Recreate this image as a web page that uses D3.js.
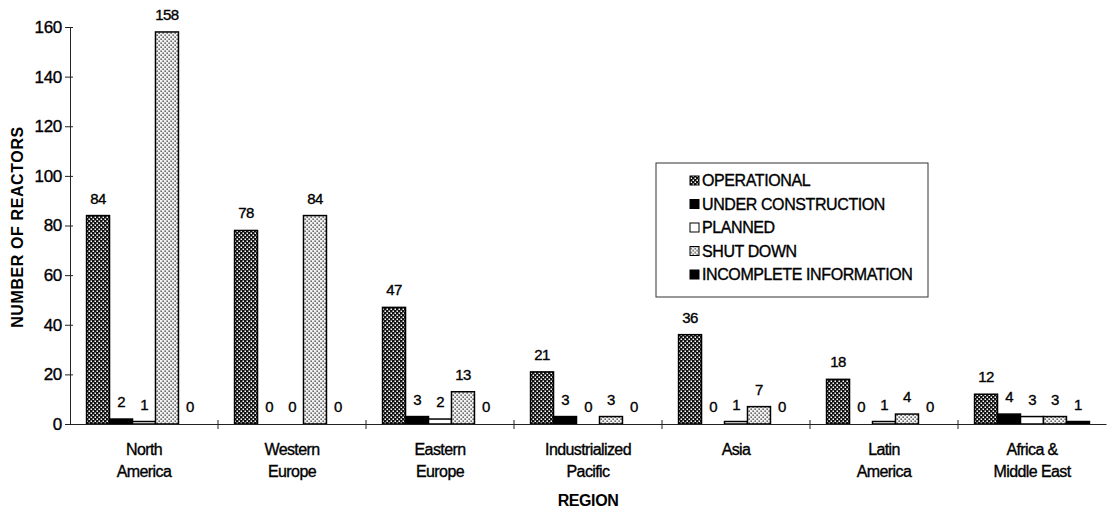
<!DOCTYPE html>
<html>
<head>
<meta charset="utf-8">
<script src="https://cdn.jsdelivr.net/npm/d3@7"></script>
<style>
    body { margin: 0; background: #fff; }
    svg { display: block; font-family: "Liberation Sans", Arial, sans-serif; }
    .ink { stroke: #000; stroke-width: 0.35px; }
</style>
</head>
<body>
<script>
//Chart values.
const regions = ["North America", "Western Europe", "Eastern Europe", "Industrialized Pacific", "Asia", "Latin America", "Africa & Middle East"];
const regionLines = [["North", "America"], ["Western", "Europe"], ["Eastern", "Europe"], ["Industrialized", "Pacific"], ["Asia"], ["Latin", "America"], ["Africa &", "Middle East"]];
const seriesNames = ["OPERATIONAL", "UNDER CONSTRUCTION", "PLANNED", "SHUT DOWN", "INCOMPLETE INFORMATION"];
const operational = [84, 78, 47, 21, 36, 18, 12];
const underConstruction = [2, 0, 3, 3, 0, 0, 4];
const planned = [1, 0, 2, 0, 1, 1, 3];
const shutDown = [158, 84, 13, 3, 7, 4, 3];
const incomplete = [0, 0, 0, 0, 0, 0, 1];
const yTicks = [0, 20, 40, 60, 80, 100, 120, 140, 160];

const seriesValues = [operational, underConstruction, planned, shutDown, incomplete];
const fills = ["url(#opPattern)", "#000", "#fff", "url(#sdPattern)", "#000"];

const width = 1108;
const height = 509;

const svg = d3.select("body").append("svg").attr("width", width).attr("height", height);

//Fill patterns for the two stippled series.
const defs = svg.append("defs");
const op = defs.append("pattern").attr("id", "opPattern").attr("patternUnits", "userSpaceOnUse")
    .attr("width", 4).attr("height", 4);
op.append("rect").attr("width", 4).attr("height", 4).attr("fill", "#111");
op.append("rect").attr("x", 0.5).attr("y", 0.5).attr("width", 1.5).attr("height", 1.5).attr("fill", "#fff");
op.append("rect").attr("x", 2.5).attr("y", 2.5).attr("width", 1.5).attr("height", 1.5).attr("fill", "#fff");

const sd = defs.append("pattern").attr("id", "sdPattern").attr("patternUnits", "userSpaceOnUse")
    .attr("width", 4).attr("height", 4);
sd.append("rect").attr("width", 4).attr("height", 4).attr("fill", "#f2f2f2");
sd.append("rect").attr("x", 0.5).attr("y", 0.5).attr("width", 1.3).attr("height", 1.3).attr("fill", "#222");
sd.append("rect").attr("x", 2.5).attr("y", 2.5).attr("width", 1.3).attr("height", 1.3).attr("fill", "#222");

//Scales.
const x0 = d3.scaleBand().domain(regions).range([70, 1106]).padding(0);
const x1 = d3.scaleBand().domain(seriesNames).range([0, x0.bandwidth()]).paddingInner(0).paddingOuter(0.72);
const y = d3.scaleLinear().domain([0, 160]).range([424, 27]);

//Y-Axis.
const yAxis = svg.append("g")
    .attr("transform", "translate(70,0)")
    .call(d3.axisLeft(y).tickValues(yTicks).tickSize(5).tickSizeOuter(0).tickPadding(3));
yAxis.select(".domain").attr("stroke", "#222").attr("stroke-width", 1);
yAxis.selectAll(".tick line").attr("x2", -5).attr("x1", 3).attr("stroke", "#222");
yAxis.selectAll(".tick text").attr("class", "ink").attr("font-size", 17).attr("letter-spacing", -0.3)
    .attr("fill", "#000").attr("font-family", "Liberation Sans, Arial, sans-serif");

//Bars.
const groups = svg.selectAll("g.region")
    .data(regions)
    .enter()
    .append("g")
    .attr("class", "region")
    .attr("transform", (d) => "translate(" + x0(d) + ",0)");

groups.selectAll("rect")
    .data((d, i) => seriesNames.map((s, j) => ({ series: s, j: j, value: seriesValues[j][i] })))
    .enter()
    .append("rect")
    .attr("x", (d) => x1(d.series))
    .attr("y", (d) => y(d.value))
    .attr("width", x1.bandwidth())
    .attr("height", (d) => y(0) - y(d.value))
    .attr("fill", (d) => fills[d.j])
    .attr("stroke", "#000")
    .attr("stroke-width", (d) => d.value > 0 ? 1.5 : 0);

//Value labels.
groups.selectAll("text.val")
    .data((d, i) => seriesNames.map((s, j) => ({ series: s, value: seriesValues[j][i] })))
    .enter()
    .append("text")
    .attr("class", "val ink")
    .attr("x", (d) => x1(d.series) + x1.bandwidth() / 2)
    .attr("y", (d) => y(d.value) - 12)
    .attr("text-anchor", "middle")
    .attr("font-size", 15)
    .attr("letter-spacing", -0.6)
    .text((d) => d.value);

//X-Axis.
const xAxis = svg.append("g")
    .attr("transform", "translate(0,424)")
    .call(d3.axisBottom(x0).tickSize(0).tickSizeOuter(0).tickFormat(""));
xAxis.select(".domain").attr("stroke", "#222").attr("stroke-width", 1.2);

//Tick marks at the borders between regions.
svg.selectAll("line.sep")
    .data(regions.slice(1))
    .enter()
    .append("line")
    .attr("class", "sep")
    .attr("x1", (d) => x0(d)).attr("x2", (d) => x0(d))
    .attr("y1", 420).attr("y2", 429)
    .attr("stroke", "#222");

//Region labels.
svg.selectAll("text.cat")
    .data(regions)
    .enter()
    .append("text")
    .attr("class", "cat ink")
    .attr("x", (d) => x0(d) + x0.bandwidth() / 2)
    .attr("y", 455)
    .attr("text-anchor", "middle")
    .attr("font-size", 16)
    .attr("letter-spacing", -0.6)
    .each(function(d, i) {
        regionLines[i].forEach((line, k) => {
            d3.select(this).append("tspan")
                .attr("x", x0(d) + x0.bandwidth() / 2)
                .attr("dy", k === 0 ? 0 : 22)
                .text(line);
        });
    });

//Axis titles.
svg.append("text")
    .attr("x", 588)
    .attr("y", 506)
    .attr("text-anchor", "middle")
    .attr("font-size", 16)
    .attr("font-weight", "bold")
    .attr("letter-spacing", -0.4)
    .text("REGION");

svg.append("text")
    .attr("transform", "translate(23,227) rotate(-90)")
    .attr("text-anchor", "middle")
    .attr("font-size", 16)
    .attr("font-weight", "bold")
    .attr("letter-spacing", 0.6)
    .text("NUMBER OF REACTORS");

//Legend.
const legend = svg.append("g").attr("transform", "translate(656,163)");
legend.append("rect")
    .attr("width", 272).attr("height", 134)
    .attr("fill", "#fff").attr("stroke", "#333").attr("stroke-width", 1);

const items = legend.selectAll("g.item")
    .data(seriesNames)
    .enter()
    .append("g")
    .attr("class", "item")
    .attr("transform", (d, i) => "translate(34," + (18 + i * 23.5) + ")");

items.append("rect")
    .attr("x", 0).attr("y", -5)
    .attr("width", 9).attr("height", 9)
    .attr("fill", (d, i) => fills[i])
    .attr("stroke", "#000").attr("stroke-width", 1);

items.append("text")
    .attr("class", "ink")
    .attr("x", 12)
    .attr("y", 5)
    .attr("font-size", 16)
    .attr("letter-spacing", -0.4)
    .text((d) => d);
</script>
</body>
</html>
